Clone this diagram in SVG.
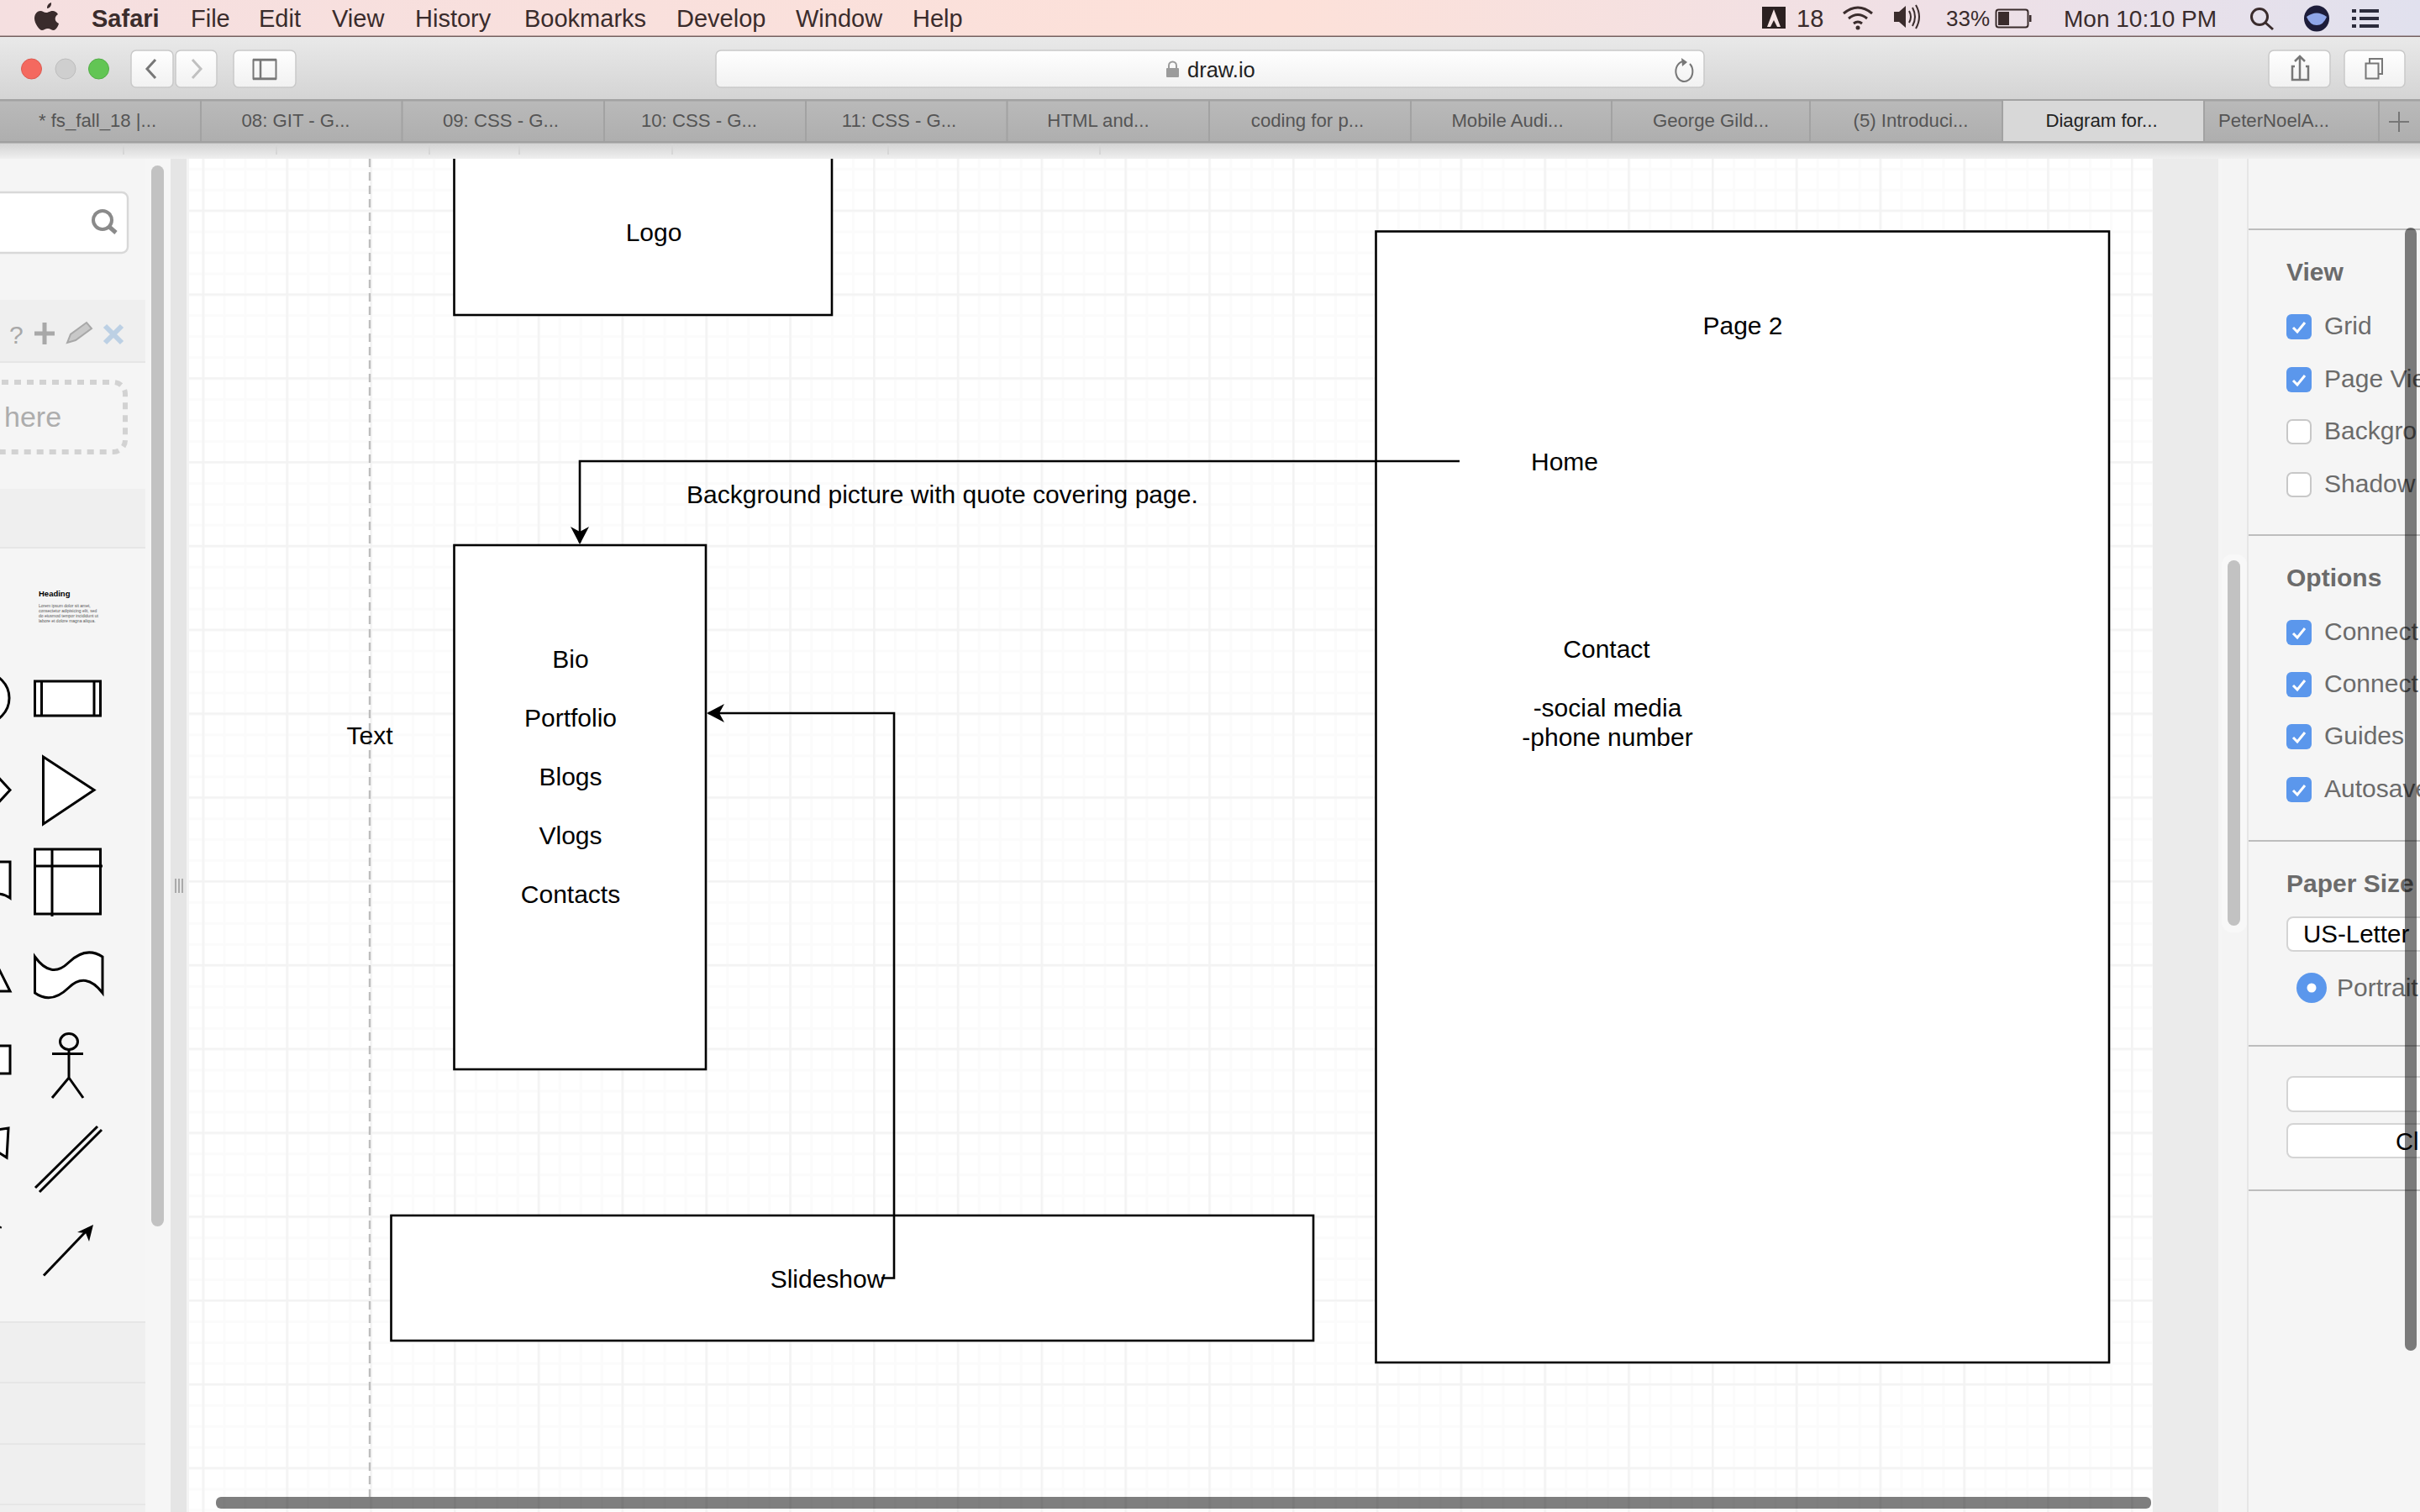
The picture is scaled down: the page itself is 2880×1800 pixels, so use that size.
<svg xmlns="http://www.w3.org/2000/svg" width="2880" height="1800" viewBox="0 0 2880 1800">
<defs>
<linearGradient id="menuGrad" x1="0" x2="1" y1="0" y2="0"><stop offset="0" stop-color="#f5dfe0"/><stop offset=".53" stop-color="#fde1d9"/><stop offset=".8" stop-color="#efe0e6"/><stop offset="1" stop-color="#e1e1ee"/></linearGradient>
<linearGradient id="toolGrad" x1="0" x2="0" y1="0" y2="1"><stop offset="0" stop-color="#e9e9e9"/><stop offset="1" stop-color="#d4d4d4"/></linearGradient>
<linearGradient id="tabGrad" x1="0" x2="0" y1="0" y2="1"><stop offset="0" stop-color="#bababa"/><stop offset="1" stop-color="#aeaeae"/></linearGradient>
<linearGradient id="shadeGrad" x1="0" x2="0" y1="0" y2="1"><stop offset="0" stop-color="#d2d2d2"/><stop offset="1" stop-color="#efefef"/></linearGradient>
<linearGradient id="btnGrad" x1="0" x2="0" y1="0" y2="1"><stop offset="0" stop-color="#ffffff"/><stop offset="1" stop-color="#f1f1f1"/></linearGradient>
<pattern id="gridMinor" width="24.95" height="24.95" patternUnits="userSpaceOnUse" patternTransform="translate(540 549)"><path d="M0 0H24.95M0 0V24.95" fill="none" stroke="#fbfbfb" stroke-width="6"/></pattern>
<pattern id="gridMajor" width="99.8" height="99.8" patternUnits="userSpaceOnUse" patternTransform="translate(540 549)"><path d="M0 0H99.8M0 0V99.8" fill="none" stroke="#f3f3f3" stroke-width="5"/></pattern>
<marker id="arrow" markerUnits="userSpaceOnUse" markerWidth="22" markerHeight="24" viewBox="0 0 22 24" refX="19" refY="12" orient="auto"><path d="M0 1 L21 12 L0 23 L6 12 Z" fill="#000"/></marker>
<symbol id="tick" viewBox="0 0 30 30"><rect width="30" height="30" rx="6" fill="#5b97ec"/><path d="M8 16l5 5 9-11" fill="none" stroke="#fff" stroke-width="3"/></symbol>
<symbol id="blank" viewBox="0 0 30 30"><rect x="1" y="1" width="28" height="28" rx="6" fill="#fff" stroke="#c8c8c8" stroke-width="2"/></symbol>
</defs>
<style>
text{font-family:"Liberation Sans",Arial,sans-serif}
.menu{font-size:29px;fill:#3a2c2c}
.tab{font-size:22.2px;fill:#555;text-anchor:middle}
.btn{fill:url(#btnGrad);stroke:#c9c9c9;stroke-width:1.5}
.sep{stroke:#a2a2a2;stroke-width:2}
.d{font-size:30px;fill:#000}
.m{text-anchor:middle}
.box{fill:#fff;stroke:#000;stroke-width:2.6}
.edge{fill:none;stroke:#000;stroke-width:2.6}
.sh{fill:#fff;stroke:#000;stroke-width:3}
.ln{fill:none;stroke:#000;stroke-width:3}
.opt{font-size:30px;fill:#6b6b6b}
.hd{font-size:30px;font-weight:bold;fill:#6b6b6b}
.line{stroke:#bdbdbd;stroke-width:2}
.inp{fill:#fff;stroke:#d4d4d4;stroke-width:2}
.ic{fill:none;stroke:#777;stroke-width:3}
</style>

<!-- canvas -->
<rect x="0" y="0" width="2880" height="1800" fill="#f5f5f5"/>
<rect x="225" y="180" width="2337" height="1620" fill="#fff"/>
<rect x="225" y="180" width="2337" height="1620" fill="url(#gridMinor)"/>
<rect x="225" y="180" width="2337" height="1620" fill="url(#gridMajor)"/>
<line x1="440" y1="189" x2="440" y2="1782" stroke="#bdbdbd" stroke-width="2.4" stroke-dasharray="10 6"/>

<g id="node-logo"><rect class="box" x="540.5" y="170" width="449.5" height="205"/><text class="d m" x="778" y="287">Logo</text></g>
<g id="node-page2"><rect class="box" x="1637.5" y="275.5" width="872.5" height="1346.5"/><text class="d m" x="2074" y="398">Page 2</text></g>
<g id="node-home"><text class="d m" x="1862" y="560">Home</text></g>
<g id="node-contact"><text class="d m" x="1912" y="783">Contact</text><text class="d m" x="1913" y="853">-social media</text><text class="d m" x="1913" y="888">-phone number</text></g>
<g id="node-background"><text class="d" x="817" y="599">Background picture with quote covering page.</text></g>
<g id="node-nav"><rect class="box" x="540.5" y="649" width="299.5" height="624"/><text class="d m" x="679" y="795">Bio</text><text class="d m" x="679" y="865">Portfolio</text><text class="d m" x="679" y="935">Blogs</text><text class="d m" x="679" y="1005">Vlogs</text><text class="d m" x="679" y="1075">Contacts</text></g>
<g id="node-text"><text class="d m" x="440" y="886">Text</text></g>
<g id="node-slideshow"><rect class="box" x="465.5" y="1447" width="1097.5" height="149"/><text class="d m" x="985" y="1533">Slideshow</text></g>

<g id="connectors">
<path class="edge" d="M1737 549H690V646" marker-end="url(#arrow)"/>
<path class="edge" d="M1049 1521.5H1064V849H843" marker-end="url(#arrow)"/>
</g>

<!-- bottom scrollbar -->
<rect x="257" y="1782" width="2303" height="14" rx="6" fill="#000" fill-opacity=".5"/>

<!-- left panel -->
<g id="left-panel">
<rect x="0" y="189" width="173" height="1611" fill="#f5f5f5"/>
<rect x="173" y="189" width="30" height="1611" fill="#f6f6f6"/>
<rect x="203" y="189" width="19" height="1611" fill="#e5e5e5"/>
<rect x="222" y="189" width="3" height="1611" fill="#f4f4f4"/>
<rect x="180" y="197" width="15" height="1263" rx="7.5" fill="#c2c2c2"/>
<path d="M209 1046v17M213 1046v17M217 1046v17" stroke="#aaa" stroke-width="2" fill="none"/>
<rect x="-10" y="229" width="162" height="72" rx="7" fill="#fff" stroke="#d8d8d8" stroke-width="2.4"/>
<circle cx="122" cy="262" r="11" fill="none" stroke="#8a8a8a" stroke-width="4"/><path d="M130 270l8 7" stroke="#8a8a8a" stroke-width="5"/>
<rect x="0" y="357" width="173" height="74" fill="#efefef"/>
<path d="M0 431H173" stroke="#e6e6e6" stroke-width="2"/>
<text x="11" y="409" font-size="30" fill="#a8a8a8">?</text>
<path d="M53 384v26M41 397h24" stroke="#a8a8a8" stroke-width="5" fill="none"/>
<path d="M80 408l4-10 19-14 6 7-19 14z" fill="#c8c8c8" stroke="#a8a8a8" stroke-width="2"/>
<path d="M125 388l20 20M145 388l-20 20" stroke="#bcd0e4" stroke-width="6" fill="none"/>
<rect x="-12" y="455" width="161" height="83" rx="14" fill="none" stroke="#d2d2d2" stroke-width="6" stroke-dasharray="8 7"/>
<text x="5" y="508" font-size="34" fill="#adadad">here</text>
<rect x="0" y="582" width="173" height="70" fill="#efefef"/>
<path d="M0 652H173" stroke="#e6e6e6" stroke-width="2"/>
<text x="46" y="710" font-size="9.5" font-weight="bold" fill="#000">Heading</text>
<g font-size="5" fill="#555"><text x="46" y="723">Lorem ipsum dolor sit amet,</text><text x="46" y="729">consectetur adipisicing elit, sed</text><text x="46" y="735">do eiusmod tempor incididunt ut</text><text x="46" y="741">labore et dolore magna aliqua.</text></g>
<circle cx="-19" cy="831" r="30" class="sh"/>
<rect class="sh" x="41.5" y="811" width="78" height="41"/><path class="ln" d="M49.5 811v41M112 811v41"/>
<path class="sh" d="M-5 922L12 940.5L-5 959"/>
<path class="sh" d="M51.5 901L112 940.5L51.5 981Z"/>
<path class="sh" d="M-3 1026H12V1069Q5 1064-3 1064"/>
<rect class="sh" x="41.5" y="1011" width="78" height="77"/><path class="ln" d="M41 1031H122M62 1011v80"/>
<path class="sh" d="M-3 1180H12L-3 1150"/>
<path class="sh" d="M41.5 1139Q61 1166 81.5 1146T122 1139V1182Q102 1156 81.5 1176T41.5 1182Z"/>
<rect class="sh" x="-3" y="1245" width="15" height="33"/>
<ellipse class="ln" cx="82" cy="1240" rx="10.5" ry="9.5"/>
<path class="ln" d="M62 1254.5H99M82 1250V1283L62 1307M82 1283L99 1307" stroke-width="2.5"/>
<path class="sh" d="M-3 1345L10 1343L8 1378L-3 1371"/>
<path class="ln" d="M42 1414L116 1341M47 1419L121 1345" stroke-width="2.5"/>
<path class="ln" d="M0 1462l1-2" stroke-width="2"/>
<path class="ln" d="M52 1518.5L106 1462" stroke-width="2.5"/><path d="M111 1458L106 1478L102 1468L92 1467Z" fill="#000"/>
<rect x="0" y="1574" width="173" height="226" fill="#efefef"/>
<path d="M0 1574H173M0 1646H173M0 1719H173M0 1791H173" stroke="#e6e6e6" stroke-width="2"/>
</g>

<!-- right panel -->
<g id="right-panel">
<rect x="2562" y="189" width="78" height="1611" fill="#ebebeb"/>
<rect x="2644" y="189" width="30" height="1611" fill="#f4f4f4"/>
<rect x="2674" y="189" width="3" height="1611" fill="#e6e6e6"/>
<rect x="2644" y="660" width="30" height="450" rx="12" fill="#f8f8f8"/>
<rect x="2651" y="667" width="15" height="435" rx="7.5" fill="#c2c2c2"/>
<rect x="2676" y="189" width="204" height="1611" fill="#f5f5f5"/>
<path class="line" d="M2676 273H2880M2676 637H2880M2676 1001H2880M2676 1245H2880M2676 1417H2880"/>
<text class="hd" x="2721" y="334">View</text>
<use href="#tick" x="2721" y="374" width="30" height="30"/><text class="opt" x="2766" y="398">Grid</text>
<use href="#tick" x="2721" y="437" width="30" height="30"/><text class="opt" x="2766" y="461">Page Vie</text>
<use href="#blank" x="2721" y="499" width="30" height="30"/><text class="opt" x="2766" y="523">Backgro</text>
<use href="#blank" x="2721" y="562" width="30" height="30"/><text class="opt" x="2766" y="586">Shadow</text>
<text class="hd" x="2721" y="698">Options</text>
<use href="#tick" x="2721" y="738" width="30" height="30"/><text class="opt" x="2766" y="762">Connect</text>
<use href="#tick" x="2721" y="800" width="30" height="30"/><text class="opt" x="2766" y="824">Connect</text>
<use href="#tick" x="2721" y="862" width="30" height="30"/><text class="opt" x="2766" y="886">Guides</text>
<use href="#tick" x="2721" y="925" width="30" height="30"/><text class="opt" x="2766" y="949">Autosave</text>
<text class="hd" x="2721" y="1062">Paper Size</text>
<rect class="inp" x="2722" y="1092" width="180" height="40" rx="7"/>
<text x="2741" y="1122" font-size="29.5" fill="#000">US-Letter</text>
<circle cx="2751" cy="1176" r="18" fill="#5b97ec"/><circle cx="2751" cy="1176" r="5.5" fill="#fff"/>
<text class="opt" x="2781" y="1186">Portrait</text>
<rect class="inp" x="2722" y="1282" width="180" height="41" rx="7"/>
<rect class="inp" x="2722" y="1338" width="180" height="40" rx="7"/>
<text x="2851" y="1369" font-size="29" fill="#000">Cl</text>
<rect x="2862" y="271" width="14" height="1337" rx="7" fill="#000" fill-opacity=".5"/>
</g>

<!-- browser chrome -->
<g id="toolbar-shade">
<rect x="0" y="170" width="2880" height="19" fill="url(#shadeGrad)"/>
<path d="M147 170v14M329 170v14M511 170v14M618 170v14M800 170v14M1057 170v14M1309 170v14" stroke="#d6d6d6" stroke-width="2"/>
</g>
<g id="menu-bar">
<rect x="0" y="0" width="2880" height="43" fill="url(#menuGrad)"/>
<rect x="0" y="42.5" width="2880" height="1.5" fill="#75605f"/>
<path d="M56 10c0-4 2-6 5-7 .5 4-2 7-5 7zM48 13c3 0 4 2 7 2s4-2 8-2c2 0 4 1 6 4-5 3-4 9 1 11-1 4-4 8-6 8-3 0-4-2-7-2s-5 2-7 2c-3 0-9-8-9-14 0-6 4-9 7-9z" fill="#3a2c2c"/>
<text class="menu" x="109" y="32" font-weight="bold">Safari</text>
<text class="menu" x="227" y="32">File</text>
<text class="menu" x="308" y="32">Edit</text>
<text class="menu" x="395" y="32">View</text>
<text class="menu" x="494" y="32">History</text>
<text class="menu" x="624" y="32">Bookmarks</text>
<text class="menu" x="805" y="32">Develop</text>
<text class="menu" x="947" y="32">Window</text>
<text class="menu" x="1086" y="32">Help</text>
<path d="M2097 8h28v26h-28z" fill="#2b2020"/><path d="M2111 11l-8 21h4l4-8 4 8h4z" fill="#f5e3e3"/>
<text class="menu" x="2138" y="32">18</text>
<path d="M2194 16q17-14 34 0M2200 22q11-9 22 0M2206 28q5-4 10 0" fill="none" stroke="#3a2c2c" stroke-width="3"/><circle cx="2211" cy="33" r="2.5" fill="#3a2c2c"/>
<path d="M2254 14h6l8-7v26l-8-7h-6z" fill="#3a2c2c"/><path d="M2272 13q4 7 0 14M2276 9q6 11 0 22M2280 6q8 14 0 28" fill="none" stroke="#3a2c2c" stroke-width="2"/>
<text x="2316" y="31" font-size="26" fill="#3a2c2c">33%</text>
<rect x="2375.5" y="11.5" width="38" height="21" rx="3" fill="none" stroke="#3a2c2c" stroke-width="2"/><rect x="2378" y="14" width="13" height="16" fill="#3a2c2c"/><rect x="2415" y="18" width="2.5" height="8" fill="#3a2c2c"/>
<text x="2456" y="32" font-size="28" fill="#3a2c2c">Mon 10:10 PM</text>
<circle cx="2689" cy="20" r="9.5" fill="none" stroke="#3a2c2c" stroke-width="3"/><path d="M2696 27l9 8" stroke="#3a2c2c" stroke-width="3"/>
<ellipse cx="2757" cy="22" rx="15" ry="15.5" fill="#1d1d3a"/><path d="M2745 20q12-9 24 0q-4 10-12 10q-8 0-12-10z" fill="#8fa6e8"/>
<path d="M2799 13h5M2808 13h23M2799 22h5M2808 22h23M2799 31h5M2808 31h23" stroke="#2c2c3c" stroke-width="4"/>
</g>
<g id="safari-toolbar">
<rect x="0" y="44" width="2880" height="74" fill="url(#toolGrad)"/>
<circle cx="37.5" cy="82" r="12" fill="#f4695f" stroke="#dc5a50"/>
<circle cx="78" cy="82" r="12" fill="#cfcfcf" stroke="#bdbdbd"/>
<circle cx="117.5" cy="82" r="12" fill="#62c554" stroke="#52ad46"/>
<rect class="btn" x="156" y="60" width="50" height="44" rx="6"/>
<rect class="btn" x="209" y="60" width="49" height="44" rx="6"/>
<path d="M185 71l-10 11 10 11" fill="none" stroke="#777" stroke-width="3"/>
<path d="M229 71l10 11-10 11" fill="none" stroke="#c0c0c0" stroke-width="3"/>
<rect class="btn" x="278" y="60" width="74" height="44" rx="6"/>
<rect x="301.5" y="71.5" width="27" height="22" fill="none" stroke="#777" stroke-width="2"/><path d="M310 71v23M301 71h28M301 94h28" stroke="#777" stroke-width="2.5"/>
<rect class="btn" x="852" y="60" width="1176" height="44" rx="6"/>
<rect x="1388" y="81" width="15" height="11" rx="1" fill="#9b9b9b"/><path d="M1391 81v-3a4.5 4.5 0 0 1 9 0v3" fill="none" stroke="#9b9b9b" stroke-width="2"/>
<text x="1413" y="92" font-size="25.5" fill="#222">draw.io</text>
<path d="M2004 73a10 12 0 1 0 7 3" class="ic" style="stroke-width:2"/><path d="M2001 69l7 5-6 5z" fill="#777"/>
<rect class="btn" x="2700" y="60" width="73" height="44" rx="6"/>
<path d="M2737 67v27M2731 73l6-6 6 6M2731 79h-3v16h19V79h-3" class="ic" style="stroke-width:2.5"/>
<rect class="btn" x="2790" y="60" width="72" height="44" rx="6"/>
<rect x="2815.5" y="75.5" width="15" height="18" class="ic" style="stroke-width:2"/><path d="M2820 75v-5h15v18h-4" class="ic" style="stroke-width:2"/>
</g>
<g id="tab-bar">
<rect x="0" y="118" width="2880" height="52" fill="url(#tabGrad)"/>
<rect x="0" y="118" width="2880" height="2.5" fill="#a2a2a2"/>
<rect x="2383" y="120" width="240" height="48" fill="#d8d8d8"/>
<rect x="0" y="168" width="2880" height="2.5" fill="#a0a0a0"/>
<path class="sep" d="M239 120v48M478.5 120v48M719 120v48M959 120v48M1198.5 120v48M1439 120v48M1679 120v48M1918 120v48M2154 120v48M2383 120v48M2623 120v48M2831 120v48"/>
<text class="tab" x="116" y="151">* fs_fall_18 |...</text>
<text class="tab" x="352" y="151">08: GIT - G...</text>
<text class="tab" x="596" y="151">09: CSS - G...</text>
<text class="tab" x="832" y="151">10: CSS - G...</text>
<text class="tab" x="1070" y="151">11: CSS - G...</text>
<text class="tab" x="1307" y="151">HTML and...</text>
<text class="tab" x="1556" y="151">coding for p...</text>
<text class="tab" x="1794" y="151">Mobile Audi...</text>
<text class="tab" x="2036" y="151">George Gild...</text>
<text class="tab" x="2274" y="151">(5) Introduci...</text>
<text class="tab" x="2501" y="151" style="fill:#222">Diagram for...</text>
<text class="tab" x="2706" y="151">PeterNoelA...</text>
<path d="M2855 133v24M2843 145h24" stroke="#777" stroke-width="2"/>
</g>
</svg>
